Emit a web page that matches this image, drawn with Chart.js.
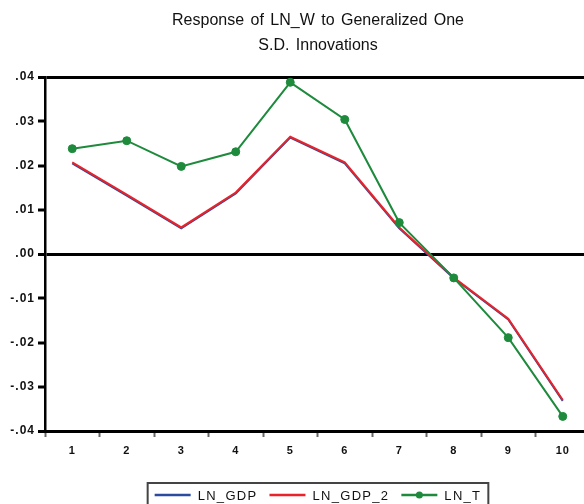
<!DOCTYPE html>
<html>
<head>
<meta charset="utf-8">
<script src="https://cdn.jsdelivr.net/npm/chart.js@4.4.1/dist/chart.umd.min.js"></script>
<style>
  html, body { margin:0; padding:0; background:#fff; overflow:hidden; }
  #wrap { width:600px; height:504px; }
</style>
</head>
<body>
<div id="wrap"><canvas id="irf" width="600" height="504"></canvas></div>
<script>
// ─── Data ────────────────────────────────────────────────────────────────────
const periods  = ['1','2','3','4','5','6','7','8','9','10'];
const lnGdp    = [0.0205, 0.0132, 0.0058, 0.0137, 0.0263, 0.0205, 0.0058, -0.0055, -0.0148, -0.0332];
const lnGdp2   = [0.0207, 0.0134, 0.0060, 0.0139, 0.0265, 0.0207, 0.0060, -0.0053, -0.0146, -0.0330];
const lnT      = [0.0238, 0.0256, 0.0198, 0.0231, 0.0388, 0.0304, 0.0071, -0.0054, -0.0189, -0.0367];
const titleLines = ['Response of LN_W to Generalized One', 'S.D. Innovations'];
const yMin = -0.04, yMax = 0.04, yStep = 0.01;

// ─── Style ───────────────────────────────────────────────────────────────────
const COL = { blue:'#2b4c9e', red:'#ea2229', green:'#1d8a3c', ink:'#111' };
const FONT = '"Liberation Sans", Arial, sans-serif';
Chart.defaults.font.family = FONT;
Chart.defaults.color = COL.ink;

// EViews-like labels: ".04", "-.01", ".00"
const fmtY = v => v.toFixed(2).replace('0.', '.');
const isFrame = v => Math.abs(v) < 1e-9 || Math.abs(Math.abs(v) - yMax) < 1e-9;

// ─── Title + boxed legend, drawn on top of the chart ─────────────────────────
const decor = {
  id: 'decor',
  beforeLayout(chart) { chart.ctx.letterSpacing = '1px'; },
  beforeDraw(chart)   { chart.ctx.letterSpacing = '1px'; },
  afterDraw(chart) {
    const ctx = chart.ctx;
    const cx = 318;
    ctx.save();
    ctx.letterSpacing = '0px';
    ctx.wordSpacing = '2px';
    ctx.fillStyle = COL.ink;
    ctx.font = '16px ' + FONT;
    ctx.textAlign = 'center';
    ctx.textBaseline = 'middle';
    titleLines.forEach((t, i) => ctx.fillText(t, cx, 21 + i * 25));

    // legend
    ctx.wordSpacing = '0px';
    ctx.letterSpacing = '1.3px';
    ctx.font = '13px ' + FONT;
    ctx.textAlign = 'left';
    const ds = chart.data.datasets;
    const lineLen = 36, gapTxt = 7, gapItem = 12, padX = 7;
    let total = 0;
    ds.forEach((d, i) => {
      total += lineLen + gapTxt + ctx.measureText(d.label).width + (i < ds.length - 1 ? gapItem : 0);
    });
    const boxW = total + padX * 2;
    const boxL = cx - boxW / 2, boxT = 483, ly = 495;
    ctx.strokeStyle = '#444';
    ctx.lineWidth = 2;
    ctx.strokeRect(boxL, boxT, boxW, 40);
    let x = boxL + padX;
    ds.forEach(d => {
      ctx.strokeStyle = d.borderColor;
      ctx.lineWidth = 2.5;
      ctx.beginPath(); ctx.moveTo(x, ly); ctx.lineTo(x + lineLen, ly); ctx.stroke();
      if (d.pointRadius > 0) {
        ctx.fillStyle = d.borderColor;
        ctx.beginPath(); ctx.arc(x + lineLen / 2, ly, 3.5, 0, Math.PI * 2); ctx.fill();
      }
      x += lineLen + gapTxt;
      ctx.fillStyle = COL.ink;
      ctx.fillText(d.label, x, ly + 1);
      x += ctx.measureText(d.label).width + gapItem;
    });
    ctx.restore();
  }
};

// ─── Chart ───────────────────────────────────────────────────────────────────
new Chart(document.getElementById('irf'), {
  type: 'line',
  data: {
    labels: periods,
    datasets: [
      { label:'LN_GDP',   data:lnGdp,  borderColor:COL.blue,  borderWidth:2, pointRadius:0, order:2 },
      { label:'LN_GDP_2', data:lnGdp2, borderColor:COL.red,   borderWidth:2, pointRadius:0, order:1 },
      { label:'LN_T',     data:lnT,    borderColor:COL.green, borderWidth:2, pointRadius:4,
        pointBackgroundColor:COL.green, pointBorderColor:COL.green, pointBorderWidth:1, order:0 },
    ]
  },
  options: {
    responsive:false, animation:false,
    layout:{ padding:{ top:77, right:10, bottom:43, left:0 } },
    elements:{ line:{ tension:0 } },
    plugins:{ legend:{ display:false }, title:{ display:false }, tooltip:{ enabled:false } },
    datasets:{ line:{ clip:false } },
    scales:{
      x:{
        offset:true,
        grid:{ offset:true, drawOnChartArea:false, tickLength:6, tickColor:'#666', tickWidth:2 },
        border:{ color:'#000', width:3 },
        ticks:{ font:{ size:11, weight:'bold' }, padding:7, maxRotation:0 },
        afterFit: s => { s.height = 30; }
      },
      y:{
        min:yMin, max:yMax,
        grid:{
          color: c => isFrame(c.tick.value) ? '#000' : 'rgba(0,0,0,0)',
          lineWidth: c => isFrame(c.tick.value) ? 3 : 0,
          tickColor:'#000', tickWidth:3, tickLength:7
        },
        border:{ color:'#000', width:2.5 },
        ticks:{ stepSize:yStep, callback:fmtY, font:{ size:12, weight:'bold' }, padding:3 },
        afterFit: s => { s.width = 45; }
      }
    }
  },
  plugins:[decor]
});
</script>
</body>
</html>
